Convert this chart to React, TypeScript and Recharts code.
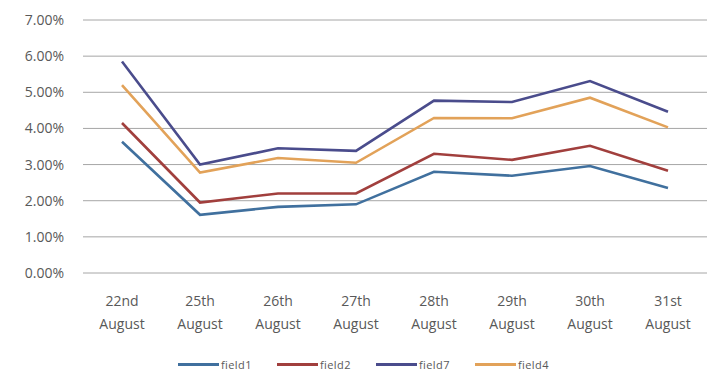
import React from 'react';
import { LineChart, Line, XAxis, YAxis, CartesianGrid, Legend } from 'recharts';

const days = ['22nd', '25th', '26th', '27th', '28th', '29th', '30th', '31st'];
const field1 = [3.63, 1.61, 1.83, 1.9, 2.8, 2.69, 2.96, 2.35];
const field2 = [4.15, 1.95, 2.2, 2.2, 3.3, 3.13, 3.52, 2.83];
const field7 = [5.85, 3.0, 3.45, 3.38, 4.77, 4.73, 5.31, 4.46];
const field4 = [5.2, 2.78, 3.18, 3.05, 4.29, 4.28, 4.85, 4.03];
const yTicks = [0, 1, 2, 3, 4, 5, 6, 7];

const series = [
  { key: 'field1', color: '#40709e' },
  { key: 'field2', color: '#a13f3d' },
  { key: 'field7', color: '#4a4c8c' },
  { key: 'field4', color: '#e2a259' },
];

const data = days.map((day, i) => ({
  day,
  field1: field1[i],
  field2: field2[i],
  field7: field7[i],
  field4: field4[i],
}));

const FONT = '"Open Sans", Lato, sans-serif';

const DayTick = (props: any) => {
  const { x, y, payload } = props;
  return (
    <text x={x} y={y} textAnchor="middle" fill="#595959" fontSize={14} fontFamily={FONT}>
      <tspan x={x} dy={25}>{payload.value}</tspan>
      <tspan x={x} dy={23}>August</tspan>
    </text>
  );
};

// fixed-width legend slots, starting a little left of centre
const LegendRow = () => (
  <div style={{ display: 'flex', alignItems: 'center', paddingLeft: 178, fontFamily: FONT, height: 14 }}>
    {series.map((s) => (
      <div key={s.key} style={{ display: 'flex', alignItems: 'center', width: 99 }}>
        <div style={{ width: 41, height: 3, background: s.color }} />
        <span style={{ fontSize: 11, color: '#595959', marginLeft: 2, letterSpacing: 0.4 }}>{s.key}</span>
      </div>
    ))}
  </div>
);

export default function App() {
  return (
    <div style={{ position: 'absolute', left: 0, top: 0, background: '#fff' }}>
      <LineChart
        width={714}
        height={371}
        data={data}
        margin={{ top: 20, right: 7, bottom: 0, left: 0 }}
      >
        <CartesianGrid vertical={false} stroke="#a6a6a6" strokeWidth={1} />
        <XAxis
          dataKey="day"
          axisLine={false}
          tickLine={false}
          padding={{ left: 39, right: 39 }}
          height={84}
          interval={0}
          tick={<DayTick />}
        />
        <YAxis
          domain={[0, 7]}
          ticks={yTicks}
          axisLine={false}
          tickLine={false}
          width={83}
          tickSize={0}
          tickMargin={19}
          tickFormatter={(v: number) => `${v.toFixed(2)}%`}
          tick={{ fill: '#595959', fontSize: 14, fontFamily: FONT }}
        />
        <Legend verticalAlign="bottom" height={14} content={<LegendRow />} />
        {series.map((s) => (
          <Line
            key={s.key}
            type="linear"
            dataKey={s.key}
            stroke={s.color}
            strokeWidth={2.6}
            dot={false}
            isAnimationActive={false}
          />
        ))}
      </LineChart>
    </div>
  );
}
